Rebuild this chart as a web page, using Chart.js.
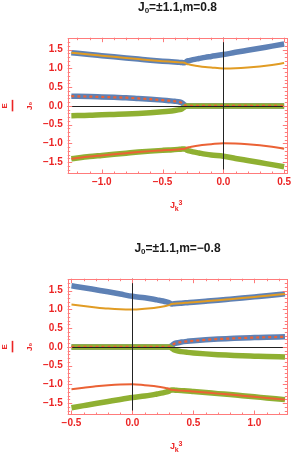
<!DOCTYPE html>
<html><head><meta charset="utf-8">
<script src="https://cdn.jsdelivr.net/npm/chart.js@4/dist/chart.umd.min.js"></script>
<style>
html,body{margin:0;padding:0;background:#fff;width:291px;height:452px;overflow:hidden}
.box{position:absolute;left:0;width:291px;height:211px}
</style></head><body>
<div class="box" style="top:0"><canvas id="c1"></canvas></div>
<div class="box" style="top:241px"><canvas id="c2"></canvas></div>
<script>
// ---------- data: chart 1 (m = 0.8) ----------
const title1 = ['J', '0', '=\u00b11.1,m=0.8'];
const x1 = [-1.25,-1.1,-1.0,-0.9,-0.8,-0.7,-0.6,-0.5,-0.45,-0.4,-0.36,-0.34,-0.32,-0.3,-0.28,-0.25,-0.2,-0.15,-0.1,0,0.1,0.2,0.3,0.4,0.5];
const blueTop1 = [1.42,1.37,1.34,1.31,1.28,1.25,1.22,1.195,1.183,1.172,1.162,1.157,1.15,1.19,1.21,1.235,1.265,1.295,1.32,1.37,1.43,1.485,1.54,1.595,1.65];
const orange1  = [1.42,1.37,1.34,1.31,1.28,1.25,1.22,1.195,1.183,1.172,1.162,1.157,1.15,1.12,1.105,1.085,1.06,1.04,1.025,1.0,1.005,1.025,1.055,1.095,1.145];
const blueMid1 = [0.26,0.25,0.24,0.23,0.22,0.2,0.18,0.155,0.14,0.125,0.105,0.08,0.03,0,0,0,0,0,0,0,0,0,0,0,0];
const greenMid1 = [-0.26,-0.25,-0.235,-0.225,-0.215,-0.2,-0.18,-0.155,-0.14,-0.12,-0.1,-0.075,-0.03,0,0,0,0,0,0,0,0,0,0,0,0];
const greenBot1 = [-1.41,-1.35,-1.32,-1.29,-1.26,-1.23,-1.205,-1.185,-1.175,-1.165,-1.155,-1.15,-1.145,-1.18,-1.2,-1.225,-1.255,-1.285,-1.31,-1.34,-1.4,-1.455,-1.51,-1.565,-1.62];
const red1     = [-1.41,-1.35,-1.32,-1.29,-1.26,-1.23,-1.205,-1.185,-1.175,-1.165,-1.155,-1.15,-1.145,-1.115,-1.1,-1.08,-1.055,-1.035,-1.02,-0.995,-1.0,-1.02,-1.05,-1.09,-1.14];
const xTicks1 = [-1.0,-0.5,0.0,0.5];
const xTickLabels1 = ['\u22121.0','\u22120.5','0.0','0.5'];

// ---------- data: chart 2 (m = -0.8) ----------
const title2 = ['J', '0', '=\u00b11.1,m=\u22120.8'];
const x2 = [-0.5,-0.4,-0.3,-0.2,-0.1,0,0.1,0.15,0.2,0.25,0.28,0.3,0.32,0.34,0.36,0.4,0.45,0.5,0.6,0.7,0.8,0.9,1.0,1.1,1.25];
const blueTop2 = [1.63,1.58,1.525,1.47,1.41,1.35,1.31,1.285,1.255,1.225,1.2,1.18,1.145,1.152,1.158,1.168,1.18,1.192,1.218,1.245,1.275,1.305,1.335,1.365,1.415];
const orange2  = [1.13,1.09,1.055,1.025,1.005,1.0,1.02,1.035,1.055,1.08,1.1,1.115,1.145,1.152,1.158,1.168,1.18,1.192,1.218,1.245,1.275,1.305,1.335,1.365,1.415];
const blueMid2 = [0,0,0,0,0,0,0,0,0,0,0,0,0.03,0.08,0.105,0.13,0.15,0.165,0.19,0.21,0.225,0.24,0.25,0.26,0.27];
const greenMid2 = [0,0,0,0,0,0,0,0,0,0,0,0,-0.03,-0.075,-0.1,-0.125,-0.145,-0.16,-0.185,-0.205,-0.22,-0.235,-0.245,-0.255,-0.265];
const greenBot2 = [-1.62,-1.565,-1.51,-1.455,-1.4,-1.35,-1.31,-1.285,-1.255,-1.225,-1.2,-1.18,-1.145,-1.15,-1.155,-1.165,-1.175,-1.19,-1.215,-1.245,-1.27,-1.3,-1.33,-1.36,-1.405];
const red2     = [-1.13,-1.09,-1.05,-1.02,-1.0,-0.995,-1.02,-1.035,-1.055,-1.08,-1.1,-1.115,-1.145,-1.15,-1.155,-1.165,-1.175,-1.19,-1.215,-1.245,-1.27,-1.3,-1.33,-1.36,-1.405];
const xTicks2 = [-0.5,0.0,0.5,1.0];
const xTickLabels2 = ['\u22120.5','0.0','0.5','1.0'];

// ---------- shared ----------
const yTicks = [-1.5,-1.0,-0.5,0.0,0.5,1.0,1.5];
const yTickLabels = ['\u22121.5','\u22121.0','\u22120.5','0.0','0.5','1.0','1.5'];
const yAxisLabelTop = 'E';
const yAxisLabelBottom = 'J\u2080';
const xAxisLabel = ['J','k','3'];

const FONT = "'Liberation Sans', Arial, sans-serif";
const C_BLUE = '#5E81B5', C_ORANGE = '#E19C24', C_GREEN = '#8FB032', C_RED = '#EB6235';
const C_FRAME = '#ff7b7b', C_TICKTXT = '#ec2424';

function pts(xs, ys){ return xs.map((x,i)=>({x:x, y:ys[i]})); }

const framePlugin = {
  id:'frameTicks',
  afterDatasetsDraw(chart){
    const ctx = chart.ctx, a = chart.chartArea, sx = chart.scales.x, sy = chart.scales.y;
    ctx.save();
    ctx.strokeStyle = '#222'; ctx.lineWidth = 1;
    const x0 = Math.round(sx.getPixelForValue(0)) + 0.5;
    const y0 = Math.round(sy.getPixelForValue(0)) + 0.5;
    ctx.beginPath();
    ctx.moveTo(x0, a.top); ctx.lineTo(x0, a.bottom);
    ctx.moveTo(a.left, y0); ctx.lineTo(a.right, y0);
    ctx.stroke();
    ctx.strokeStyle = C_FRAME; ctx.lineWidth = 1;
    ctx.strokeRect(Math.round(a.left)+0.5, Math.round(a.top)+0.5, Math.round(a.width)-1, Math.round(a.height)-1);
    ctx.beginPath();
    for (let v = Math.ceil(sx.min*10); v <= Math.floor(sx.max*10); v++){
      const L = (v % 5 === 0) ? 4.5 : 2.5;
      const px = Math.round(sx.getPixelForValue(v/10)) + 0.5;
      ctx.moveTo(px, a.bottom); ctx.lineTo(px, a.bottom - L);
      ctx.moveTo(px, a.top); ctx.lineTo(px, a.top + L);
    }
    for (let v = Math.ceil(sy.min*10); v <= Math.floor(sy.max*10); v++){
      const L = (v % 5 === 0) ? 4.5 : 2.5;
      const py = Math.round(sy.getPixelForValue(v/10)) + 0.5;
      ctx.moveTo(a.left, py); ctx.lineTo(a.left + L, py);
      ctx.moveTo(a.right, py); ctx.lineTo(a.right - L, py);
    }
    ctx.stroke();
    ctx.restore();
  },
  afterDraw(chart, args, opts){
    const ctx = chart.ctx, a = chart.chartArea;
    const cy = (a.top + a.bottom) / 2;
    ctx.save();
    // title, centred over plot area
    const t = opts.title;
    ctx.fillStyle = '#1a1a1a'; ctx.textBaseline = 'alphabetic'; ctx.textAlign = 'left';
    ctx.font = 'bold 12px ' + FONT; const w0 = ctx.measureText(t[0]).width, w2 = ctx.measureText(t[2]).width;
    ctx.font = 'bold 8px ' + FONT; const w1 = ctx.measureText(t[1]).width;
    let tx = (a.left + a.right) / 2 - (w0 + w1 + w2) / 2;
    ctx.font = 'bold 12px ' + FONT; ctx.fillText(t[0], tx, 10.8); tx += w0;
    ctx.font = 'bold 8px ' + FONT; ctx.fillText(t[1], tx, 13); tx += w1;
    ctx.font = 'bold 12px ' + FONT; ctx.fillText(t[2], tx, 10.8);
    // rotated fraction E / J0
    ctx.fillStyle = C_TICKTXT; ctx.strokeStyle = C_TICKTXT;
    ctx.font = 'bold 8px ' + FONT;
    ctx.textAlign = 'center'; ctx.textBaseline = 'middle';
    ctx.save(); ctx.translate(5, cy); ctx.rotate(-Math.PI/2); ctx.fillText(yAxisLabelTop, 0, 0); ctx.restore();
    ctx.save(); ctx.translate(29.5, cy); ctx.rotate(-Math.PI/2); ctx.fillText(yAxisLabelBottom, 0, 0); ctx.restore();
    ctx.lineWidth = 1.6;
    ctx.beginPath(); ctx.moveTo(12.5, cy - 6); ctx.lineTo(12.5, cy + 5.5); ctx.stroke();
    // x label J_k^3
    ctx.textAlign = 'left'; ctx.textBaseline = 'alphabetic';
    ctx.font = 'bold 9px ' + FONT;
    ctx.fillText(xAxisLabel[0], 170, 207.5);
    ctx.font = 'bold 7px ' + FONT;
    ctx.fillText(xAxisLabel[1], 174.8, 210.5);
    ctx.fillText(xAxisLabel[2], 178.6, 205);
    ctx.restore();
  }
};

function series(xs, s){
  return [
    {data:pts(xs,s.blueTop), borderColor:C_BLUE, borderWidth:5.5, order:5},
    {data:pts(xs,s.blueMid), borderColor:C_BLUE, borderWidth:5.5, order:5},
    {data:pts(xs,s.greenMid), borderColor:C_GREEN, borderWidth:5.5, order:4},
    {data:pts(xs,s.greenBot), borderColor:C_GREEN, borderWidth:5.5, order:4},
    {data:pts(xs,s.orange), borderColor:C_ORANGE, borderWidth:2, order:2},
    {data:pts(xs,s.red), borderColor:C_RED, borderWidth:2, order:2},
    {data:pts(xs,s.blueMid), borderColor:C_RED, borderWidth:2.2, borderDash:[3,3], order:1}
  ].map(d => Object.assign(d, {showLine:true, pointRadius:0, pointHoverRadius:0, fill:false,
      cubicInterpolationMode:'monotone', borderJoinStyle:'round', borderCapStyle:'butt'}));
}

function makeChart(id, title, xs, s, xmin, xmax, xTicks, xLabels){
  return new Chart(document.getElementById(id), {
    type:'scatter',
    data:{datasets:series(xs, s)},
    options:{
      responsive:true, maintainAspectRatio:false, animation:false,
      layout:{padding:{left:0, right:3.7, top:37.7, bottom:0}},
      plugins:{
        legend:{display:false}, tooltip:{enabled:false}, title:{display:false},
        frameTicks:{title:title}
      },
      scales:{
        x:{type:'linear', min:xmin, max:xmax,
           grid:{display:false, drawTicks:false}, border:{display:false},
           afterBuildTicks:sc => { sc.ticks = xTicks.map(v => ({value:v})); },
           afterFit:sc => { sc.height = 37; sc.paddingLeft = 0; sc.paddingRight = 0; },
           ticks:{padding:2.5, color:C_TICKTXT, font:{family:FONT, size:10, weight:'bold'},
                  maxRotation:0, autoSkip:false,
                  callback:(v,i) => xLabels[i]}},
        y:{type:'linear', min:-1.815, max:1.82,
           grid:{display:false, drawTicks:false}, border:{display:false},
           afterBuildTicks:sc => { sc.ticks = yTicks.map(v => ({value:v})); },
           afterFit:sc => { sc.width = 67.7; sc.paddingTop = 0; sc.paddingBottom = 0; },
           ticks:{padding:5, color:C_TICKTXT, font:{family:FONT, size:10, weight:'bold'},
                  autoSkip:false, callback:(v,i) => yTickLabels[i]}}
      }
    },
    plugins:[framePlugin]
  });
}

makeChart('c1', title1, x1,
  {blueTop:blueTop1, orange:orange1, blueMid:blueMid1, greenMid:greenMid1, greenBot:greenBot1, red:red1},
  -1.28, 0.526, xTicks1, xTickLabels1);
makeChart('c2', title2, x2,
  {blueTop:blueTop2, orange:orange2, blueMid:blueMid2, greenMid:greenMid2, greenBot:greenBot2, red:red2},
  -0.531, 1.269, xTicks2, xTickLabels2);
</script>
</body></html>
